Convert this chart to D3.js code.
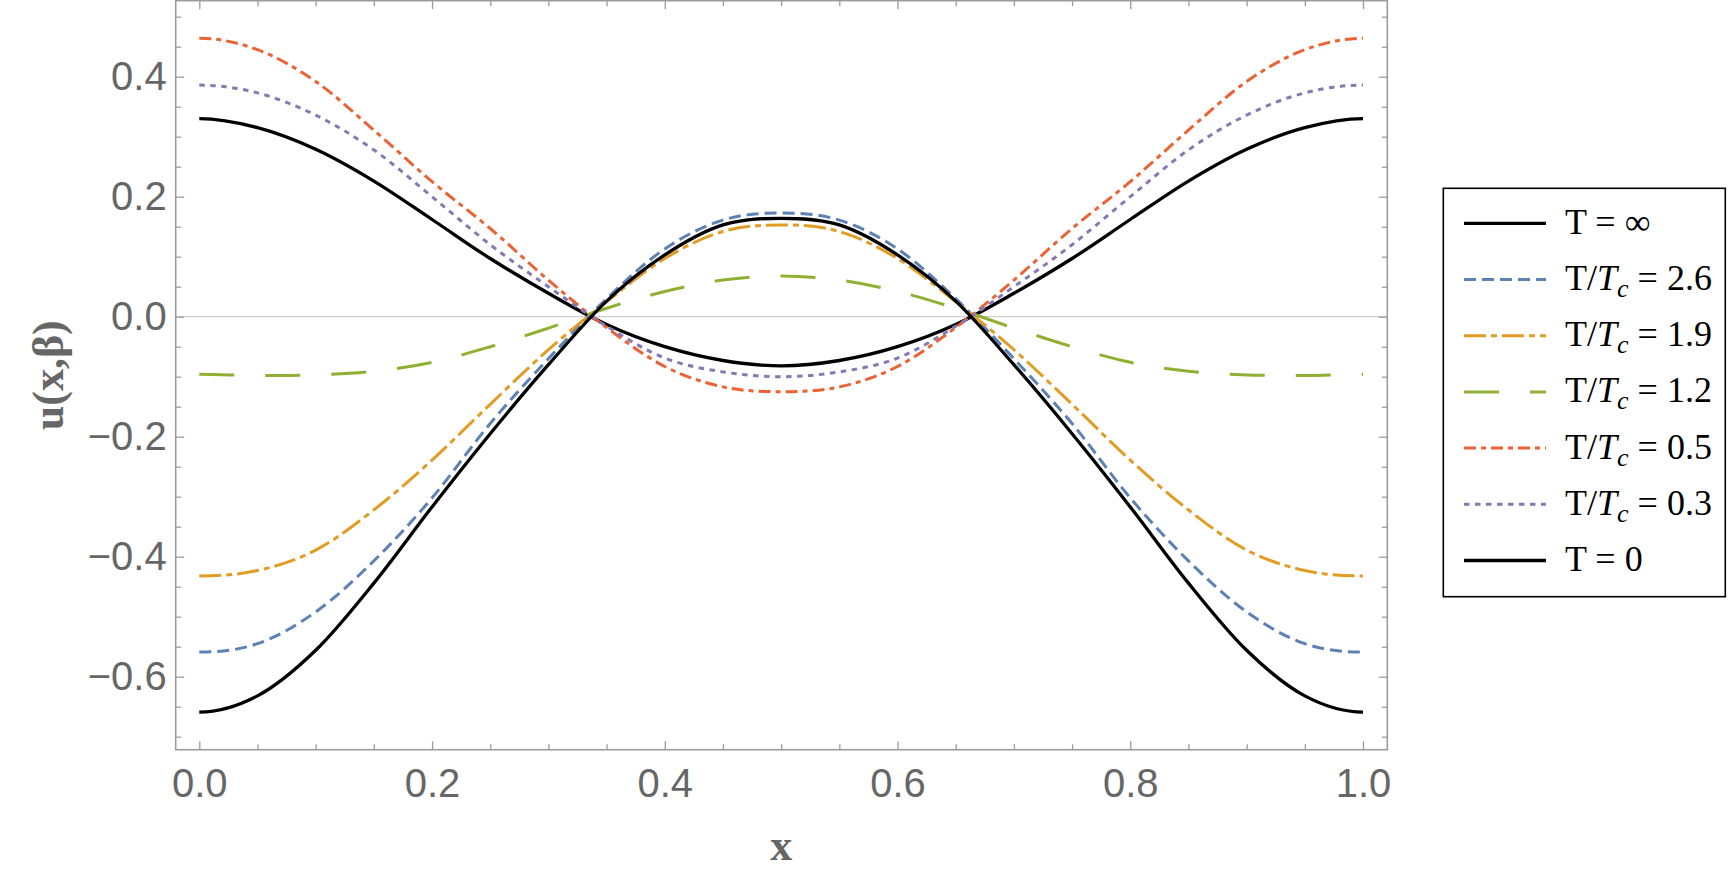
<!DOCTYPE html>
<html>
<head>
<meta charset="utf-8">
<script src="https://cdn.jsdelivr.net/npm/d3@7"></script>
<style>
  body { margin: 0; background: #fff; }
  svg { display: block; }
</style>
</head>
<body>
<svg id="chart"></svg>
<script>
// sample positions along x
var xValues = [0, 0.05, 0.1, 0.15, 0.2, 0.25, 0.3, 0.35, 0.4, 0.45, 0.5,
               0.55, 0.6, 0.65, 0.7, 0.75, 0.8, 0.85, 0.9, 0.95, 1];

// u(x, beta), one list per temperature
var tInfinity = [0.33, 0.315, 0.279, 0.226, 0.162, 0.097, 0.039, -0.013, -0.05, -0.073, -0.082,
                 -0.073, -0.05, -0.013, 0.039, 0.097, 0.162, 0.226, 0.279, 0.315, 0.33];
var t26 = [-0.559, -0.545, -0.492, -0.407, -0.302, -0.178, -0.07, 0.03, 0.113, 0.161, 0.173,
           0.161, 0.113, 0.03, -0.07, -0.178, -0.302, -0.407, -0.492, -0.545, -0.559];
var t19 = [-0.432, -0.423, -0.389, -0.322, -0.239, -0.146, -0.055, 0.025, 0.097, 0.142, 0.153,
           0.142, 0.097, 0.025, -0.055, -0.146, -0.239, -0.322, -0.389, -0.423, -0.432];
var t12 = [-0.096, -0.098, -0.097, -0.091, -0.076, -0.05, -0.019, 0.014, 0.042, 0.061, 0.068,
           0.061, 0.042, 0.014, -0.019, -0.05, -0.076, -0.091, -0.097, -0.098, -0.096];
var t05 = [0.464, 0.445, 0.392, 0.311, 0.225, 0.147, 0.061, -0.018, -0.083, -0.117, -0.125,
           -0.117, -0.083, -0.018, 0.061, 0.147, 0.225, 0.311, 0.392, 0.445, 0.464];
var t03 = [0.386, 0.373, 0.336, 0.278, 0.2, 0.12, 0.05, -0.016, -0.069, -0.092, -0.1,
           -0.092, -0.069, -0.016, 0.05, 0.12, 0.2, 0.278, 0.336, 0.373, 0.386];
var tZero = [-0.659, -0.632, -0.556, -0.444, -0.317, -0.195, -0.08, 0.026, 0.103, 0.153, 0.164,
             0.153, 0.103, 0.026, -0.08, -0.195, -0.317, -0.444, -0.556, -0.632, -0.659];

var ratioLabels = [null, "2.6", "1.9", "1.2", "0.5", "0.3", null];
var plainLabels = ["T = \u221e", null, null, null, null, null, "T = 0"];

var xTicks = [0, 0.2, 0.4, 0.6, 0.8, 1.0];
var yTicks = [-0.6, -0.4, -0.2, 0, 0.2, 0.4];

var width = 1730, height = 878;
var svg = d3.select("#chart").attr("width", width).attr("height", height);

var x = d3.scaleLinear().domain([0, 1]).range([199.3, 1363]);
var y = d3.scaleLinear().domain([-0.6, 0.4]).range([676.7, 76.7]);

var plotLeft = x(-0.0203), plotRight = x(1.0209);
var plotTop = y(0.5267), plotBottom = y(-0.7217);

var frameColor = "#9c9c9c";
var tickFont = "'Liberation Sans', Arial, sans-serif";

var minorX = d3.range(0, 21).map(function (i) { return i * 0.05; })
  .filter(function (v) { return Math.abs(v * 5 - Math.round(v * 5)) > 1e-6; });
var minorY = d3.range(-14, 11).map(function (i) { return i * 0.05; })
  .filter(function (v) { return Math.abs(v * 5 - Math.round(v * 5)) > 1e-6; });

// zero line
svg.append("line")
  .attr("x1", plotLeft).attr("x2", plotRight)
  .attr("y1", y(0)).attr("y2", y(0))
  .attr("stroke", "#cfcfcf").attr("stroke-width", 1.3);

function styleAxis(g) {
  g.select(".domain").remove();
  g.selectAll(".tick line").attr("stroke", frameColor).attr("stroke-width", 1.3);
  g.selectAll(".tick text").attr("fill", "#666").attr("font-family", tickFont).attr("font-size", 40);
}

var fmt = d3.format(".1f");

// bottom + top
svg.append("g").attr("transform", "translate(0," + plotBottom + ")")
  .call(d3.axisBottom(x).tickValues(xTicks).tickSize(-8.5).tickPadding(18.5).tickFormat(fmt))
  .call(styleAxis);
svg.append("g").attr("transform", "translate(0," + plotBottom + ")")
  .call(d3.axisBottom(x).tickValues(minorX).tickSize(-5.5).tickFormat(""))
  .call(styleAxis);
svg.append("g").attr("transform", "translate(0," + plotTop + ")")
  .call(d3.axisTop(x).tickValues(xTicks).tickSize(-8.5).tickFormat(""))
  .call(styleAxis);
svg.append("g").attr("transform", "translate(0," + plotTop + ")")
  .call(d3.axisTop(x).tickValues(minorX).tickSize(-5.5).tickFormat(""))
  .call(styleAxis);

// left + right
svg.append("g").attr("transform", "translate(" + plotLeft + ",0)")
  .call(d3.axisLeft(y).tickValues(yTicks).tickSize(-8.5).tickPadding(9).tickFormat(fmt))
  .call(styleAxis);
svg.append("g").attr("transform", "translate(" + plotLeft + ",0)")
  .call(d3.axisLeft(y).tickValues(minorY).tickSize(-5.5).tickFormat(""))
  .call(styleAxis);
svg.append("g").attr("transform", "translate(" + plotRight + ",0)")
  .call(d3.axisRight(y).tickValues(yTicks).tickSize(-8.5).tickFormat(""))
  .call(styleAxis);
svg.append("g").attr("transform", "translate(" + plotRight + ",0)")
  .call(d3.axisRight(y).tickValues(minorY).tickSize(-5.5).tickFormat(""))
  .call(styleAxis);

// frame
svg.append("rect")
  .attr("x", plotLeft).attr("y", plotTop)
  .attr("width", plotRight - plotLeft).attr("height", plotBottom - plotTop)
  .attr("fill", "none").attr("stroke", frameColor).attr("stroke-width", 1.6);

// series
var series = [
  { values: tInfinity, color: "#000000", dash: null, w: 3.3 },
  { values: t26, color: "#5e81b5", dash: "12,6", w: 3 },
  { values: t19, color: "#e19c24", dash: "22,5,6,5", w: 3 },
  { values: t12, color: "#8fb032", dash: "35,31", w: 3 },
  { values: t05, color: "#eb6235", dash: "12,5,5,5", w: 3 },
  { values: t03, color: "#8778b3", dash: "5.5,5.5", w: 3 },
  { values: tZero, color: "#000000", dash: null, w: 3.3 }
];

// cubic Hermite through the samples, central-difference slopes, flat at both ends
// (every curve is even about x = 0 and x = 1)
function curveFlatEnds(context) {
  var px, py;
  return {
    areaStart: function () {},
    areaEnd: function () {},
    lineStart: function () { px = []; py = []; },
    point: function (a, b) { px.push(+a); py.push(+b); },
    lineEnd: function () {
      var n = px.length, m = [];
      for (var i = 0; i < n; i++) {
        m[i] = (i === 0 || i === n - 1) ? 0 : (py[i + 1] - py[i - 1]) / (px[i + 1] - px[i - 1]);
      }
      context.moveTo(px[0], py[0]);
      for (var j = 0; j < n - 1; j++) {
        var h = px[j + 1] - px[j];
        context.bezierCurveTo(px[j] + h / 3, py[j] + m[j] * h / 3,
                              px[j + 1] - h / 3, py[j + 1] - m[j + 1] * h / 3,
                              px[j + 1], py[j + 1]);
      }
    }
  };
}

var line = d3.line()
  .x(function (d, i) { return x(xValues[i]); })
  .y(function (d) { return y(d); })
  .curve(curveFlatEnds);

svg.append("g").selectAll("path")
  .data(series)
  .enter()
  .append("path")
  .attr("d", function (d) { return line(d.values); })
  .attr("fill", "none")
  .attr("stroke", function (d) { return d.color; })
  .attr("stroke-width", function (d) { return d.w; })
  .attr("stroke-dasharray", function (d) { return d.dash; });

// axis labels
svg.append("text")
  .attr("x", x(0.5)).attr("y", 860)
  .attr("text-anchor", "middle")
  .attr("font-family", "'Liberation Serif', 'Times New Roman', serif")
  .attr("font-weight", "bold").attr("font-size", 44).attr("fill", "#666")
  .text("x");

svg.append("text")
  .attr("transform", "translate(63," + ((plotTop + plotBottom) / 2) + ") rotate(-90)")
  .attr("text-anchor", "middle")
  .attr("font-family", "'Liberation Serif', 'Times New Roman', serif")
  .attr("font-weight", "bold").attr("font-size", 44).attr("fill", "#666")
  .text("u(x,\u03b2)");

// legend
var legend = svg.append("g");
legend.append("rect")
  .attr("x", 1443.3).attr("y", 188.3)
  .attr("width", 282).attr("height", 408.4)
  .attr("fill", "#fff").attr("stroke", "#000").attr("stroke-width", 1.6);

var row = legend.selectAll(".row")
  .data(series)
  .enter()
  .append("g")
  .attr("class", "row")
  .attr("transform", function (d, i) { return "translate(0," + (223.3 + i * 56.2) + ")"; });

row.append("line")
  .attr("x1", 1464).attr("x2", 1546)
  .attr("stroke", function (d) { return d.color; })
  .attr("stroke-width", function (d) { return d.w; })
  .attr("stroke-dasharray", function (d) { return d.dash; });

var label = row.append("text")
  .attr("x", 1565).attr("y", 10.5)
  .attr("font-family", "'Liberation Serif', 'Times New Roman', serif")
  .attr("font-size", 36).attr("fill", "#000");

label.each(function (d, i) {
  var t = d3.select(this);
  if (plainLabels[i]) {
    t.text(plainLabels[i]);
    return;
  }
  t.append("tspan").text("T/");
  t.append("tspan").attr("font-style", "italic").text("T");
  t.append("tspan").attr("font-style", "italic").attr("font-size", 26).attr("dy", 7).text("c");
  t.append("tspan").attr("dy", -7).text(" = " + ratioLabels[i]);
});
</script>
</body>
</html>
